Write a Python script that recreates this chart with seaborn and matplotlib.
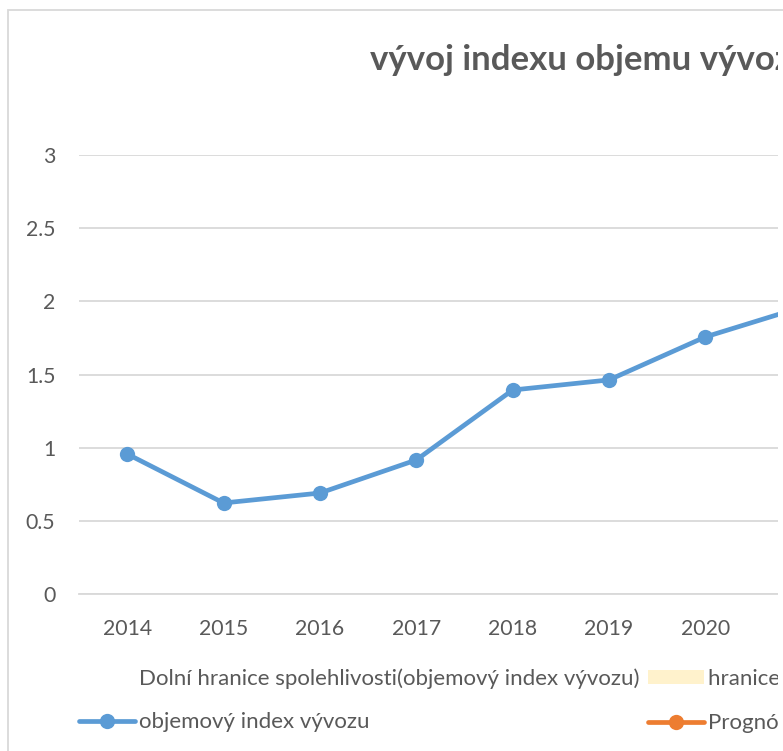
import pandas as pd
import numpy as np
import matplotlib.pyplot as plt
import seaborn as sns
from matplotlib.lines import Line2D
from matplotlib.patches import Patch, Rectangle

# data
years = ['2014', '2015', '2016', '2017', '2018', '2019', '2020', '2021']
index_values = [0.957, 0.622, 0.69, 0.916, 1.394, 1.463, 1.757, 1.96]
yticks = [0, 0.5, 1, 1.5, 2, 2.5, 3]
title = 'vývoj indexu objemu vývozu'
legend_labels = ['Dolní hranice spolehlivosti(objemový index vývozu)',
                 'objemový index vývozu',
                 'hranice spolehlivosti(objemový index vývozu)',
                 'Prognóza(objemový index vývozu)']

df = pd.DataFrame({'rok': years, 'index': index_values})

sns.set_style('white')
plt.rcParams['font.family'] = ['Lato', 'DejaVu Sans']

gray = '#595959'
blue = '#5B9BD5'
orange = '#ED7D31'
cream = '#FFF2CC'

fig = plt.figure(figsize=(7.83, 7.51), dpi=100)
# chart frame (cut off on the right and bottom like the original)
fig.patches.append(Rectangle((8 / 783, -0.1), 1.2, 1 - 10 / 751 + 0.1,
                             transform=fig.transFigure, fill=False,
                             edgecolor='#D9D9D9', linewidth=1.3))

ax = fig.add_axes([79 / 783, 157 / 751, 771 / 783, 439 / 751])
sns.lineplot(data=df, x='rok', y='index', ax=ax, color=blue, linewidth=3.4,
             marker='o', markersize=11, markeredgewidth=0, sort=False)

ax.set_xlim(-0.5, len(years) - 0.5)
ax.set_ylim(0, 3)
ax.set_yticks(yticks)
ax.set_yticklabels([f'{v:g}' for v in yticks])
ax.yaxis.grid(True, color='#D9D9D9', linewidth=1.3)
ax.set_axisbelow(True)
for s in ax.spines.values():
    s.set_visible(False)
ax.spines['bottom'].set_visible(True)
ax.spines['bottom'].set_color('#D9D9D9')
ax.spines['bottom'].set_linewidth(1.3)
ax.tick_params(axis='both', length=0, labelsize=15.3, labelcolor=gray)
ax.tick_params(axis='y', pad=17)
ax.tick_params(axis='x', pad=18)
ax.set_xlabel('')
ax.set_ylabel('')

fig.text(370 / 783, 1 - 60 / 751, title, fontsize=25, fontweight='bold',
         color=gray, ha='left', va='center')

handles = [Patch(facecolor='none', edgecolor='none'),
           Line2D([], [], color=blue, linewidth=3.4, marker='o', markersize=11, markeredgewidth=0),
           Patch(facecolor=cream, edgecolor='none'),
           Line2D([], [], color=orange, linewidth=3.4, marker='o', markersize=11, markeredgewidth=0)]
fig.legend(handles, legend_labels, ncol=2, loc='upper left',
           bbox_to_anchor=(79 / 783, 1 - 668 / 751), frameon=False,
           fontsize=16, labelcolor=gray, handlelength=2.5, handleheight=0.6,
           handletextpad=0.22, columnspacing=0.36, labelspacing=1.07,
           borderpad=0, borderaxespad=0)

# the original picture is cut a few pixels before its right edge
fig.patches.append(Rectangle((778 / 783, 0), 0.1, 1 - 11 / 751,
                             transform=fig.transFigure, facecolor='white',
                             edgecolor='none', zorder=10))

fig.savefig('out.png', dpi=100)
